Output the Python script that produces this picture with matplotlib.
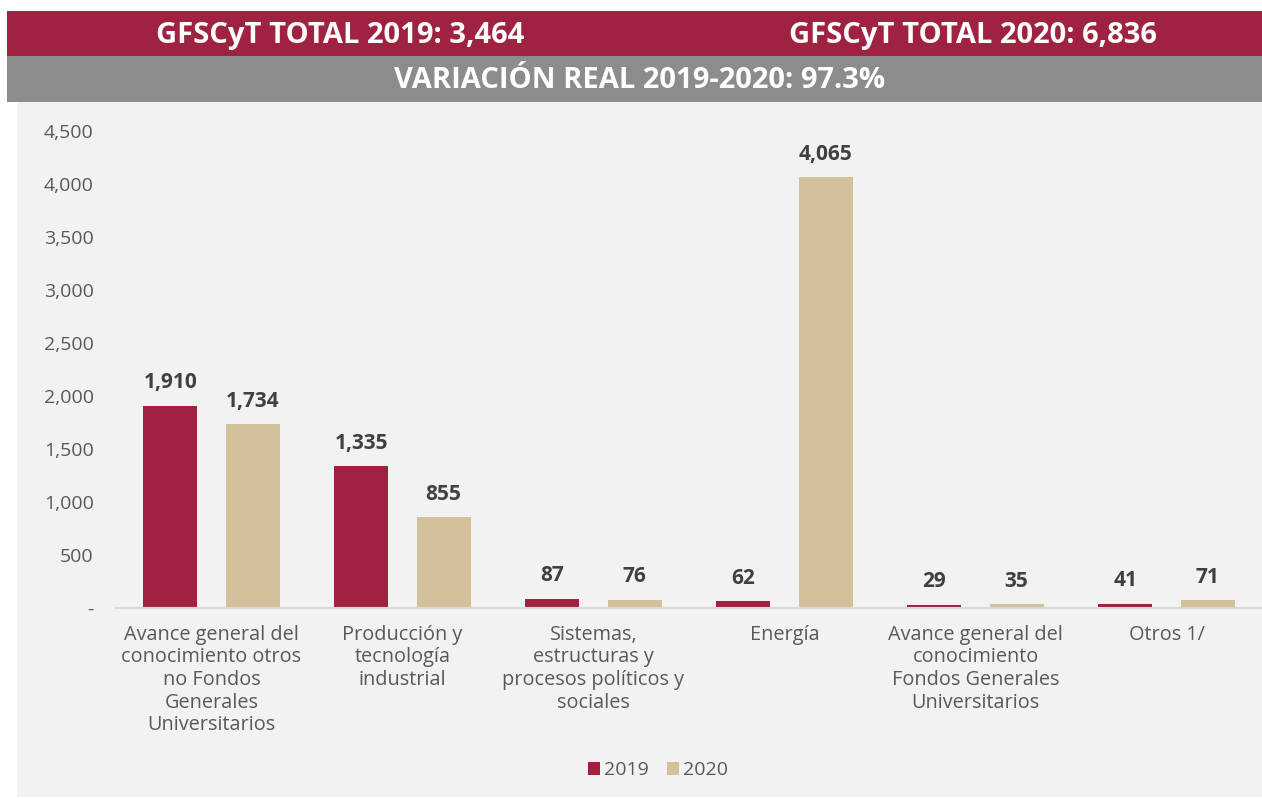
import matplotlib
matplotlib.use("Agg")
import matplotlib.pyplot as plt
from matplotlib.patches import Rectangle
import numpy as np

# Datos: gasto federal en ciencia y tecnología por finalidad (millones de pesos)
categorias = [
    "Avance general del\nconocimiento otros\nno Fondos\nGenerales\nUniversitarios",
    "Producción y\ntecnología\nindustrial",
    "Sistemas,\nestructuras y\nprocesos políticos y\nsociales",
    "Energía",
    "Avance general del\nconocimiento\nFondos Generales\nUniversitarios",
    "Otros 1/",
]
valores_2019 = [1910, 1335, 87, 62, 29, 41]
valores_2020 = [1734, 855, 76, 4065, 35, 71]
titulo_2019 = "GFSCyT TOTAL 2019: 3,464"
titulo_2020 = "GFSCyT TOTAL 2020: 6,836"
titulo_var = "VARIACIÓN REAL 2019-2020: 97.3%"

GUINDA = "#9F2241"
ARENA = "#D4C19C"
GRIS_BARRA = "#8C8C8C"
FONDO = "#F2F2F2"
TEXTO = "#595959"

plt.rcParams["font.family"] = ["Open Sans", "DejaVu Sans"]

W, H = 1262, 798
fig = plt.figure(figsize=(W / 100, H / 100), dpi=100)
fig.patch.set_facecolor("white")

# Encabezados y fondo del panel (coordenadas de figura)
def rect(x0, y0, x1, y1, color):
    fig.patches.append(Rectangle((x0 / W, 1 - y1 / H), (x1 - x0) / W, (y1 - y0) / H,
                                 transform=fig.transFigure, facecolor=color,
                                 edgecolor="none", zorder=-5))

rect(7, 11, W, 56, GUINDA)
rect(7, 56, W, 102, GRIS_BARRA)
rect(17, 102, W, 797, FONDO)

fig.text(340 / W, 1 - 35 / H, titulo_2019, color="white", fontsize=21,
         fontweight="bold", ha="center", va="center")
fig.text(973 / W, 1 - 35 / H, titulo_2020, color="white", fontsize=21,
         fontweight="bold", ha="center", va="center")
fig.text(640 / W, 1 - 80 / H, titulo_var, color="white", fontsize=21,
         fontweight="bold", ha="center", va="center")

ax = fig.add_axes([116 / W, 1 - 608 / H, (W - 116) / W, (608 - 131) / H])
ax.set_facecolor("none")
ax.set_zorder(2)

x = np.arange(len(categorias))
ancho = 0.283
desp = 0.215
b1 = ax.bar(x - desp, valores_2019, ancho, color=GUINDA, label="2019", zorder=2)
b2 = ax.bar(x + desp, valores_2020, ancho, color=ARENA, label="2020", zorder=2)

for barras, vals in ((b1, valores_2019), (b2, valores_2020)):
    for b, v in zip(barras, vals):
        ax.annotate(f"{v:,}", (b.get_x() + b.get_width() / 2, v),
                    xytext=(0, 9), textcoords="offset points",
                    ha="center", va="bottom", fontsize=15, fontweight="bold",
                    color="#404040")

ax.set_xlim(-0.5, len(categorias) - 0.5)
ax.set_ylim(0, 4500)
ax.set_yticks(np.arange(0, 4501, 500))
ax.set_yticklabels(["-"] + [f"{v:,}" for v in range(500, 4501, 500)])
ax.set_xticks(x)
ax.set_xticklabels(categorias, linespacing=1.18)
ax.tick_params(axis="y", length=0, pad=16, labelsize=14, labelcolor=TEXTO)
ax.tick_params(axis="x", length=0, pad=12, labelsize=14.3, labelcolor=TEXTO)

for lado in ("top", "right", "left"):
    ax.spines[lado].set_visible(False)
ax.spines["bottom"].set_color("#D9D9D9")
ax.spines["bottom"].set_linewidth(1.5)

fig.legend(handles=[b1, b2], labels=["2019", "2020"], loc="center",
           bbox_to_anchor=(658 / W, 1 - 770 / H), ncol=2, frameon=False,
           fontsize=14, labelcolor=TEXTO, handlelength=0.65, handleheight=0.65,
           handletextpad=0.2, columnspacing=0.9)

fig.savefig("out.png", dpi=100, facecolor="white")
